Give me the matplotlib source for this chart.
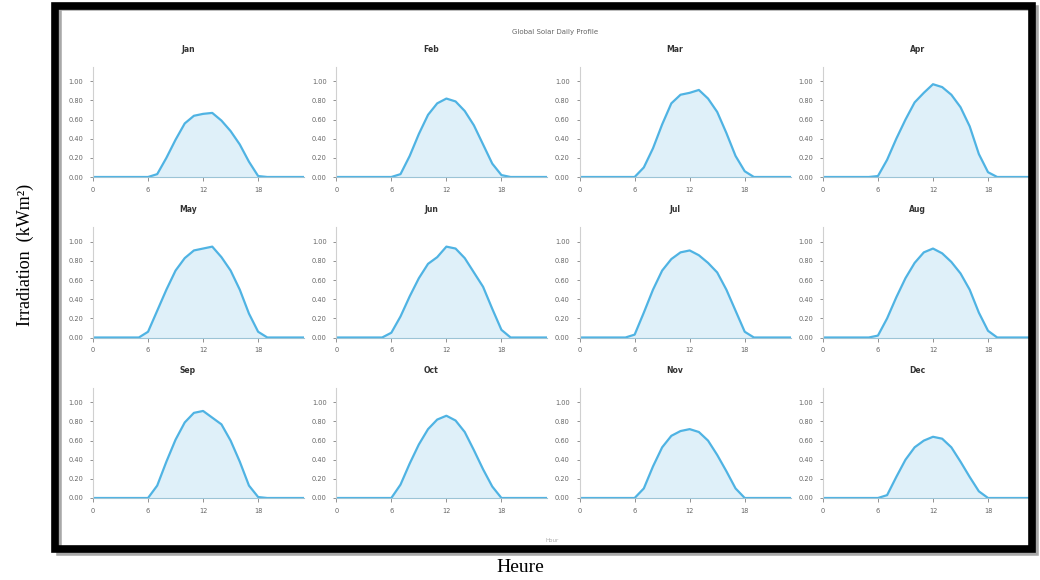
import numpy as np
import matplotlib.pyplot as plt
from matplotlib.patches import Rectangle

# %% data: hourly irradiation (kW/m2), hours 0..23
hours = list(range(24))
months = ["Jan", "Feb", "Mar", "Apr", "May", "Jun",
          "Jul", "Aug", "Sep", "Oct", "Nov", "Dec"]

#       0  1  2  3  4  5  6     7     8     9     10    11    12    13    14    15    16    17    18    19 20 21 22 23
jan = [0, 0, 0, 0, 0, 0, 0.00, 0.03, 0.20, 0.39, 0.56, 0.64, 0.66, 0.67, 0.59, 0.48, 0.34, 0.16, 0.01, 0, 0, 0, 0, 0]
feb = [0, 0, 0, 0, 0, 0, 0.00, 0.03, 0.22, 0.45, 0.65, 0.77, 0.82, 0.79, 0.69, 0.54, 0.34, 0.14, 0.02, 0, 0, 0, 0, 0]
mar = [0, 0, 0, 0, 0, 0, 0.00, 0.10, 0.30, 0.55, 0.77, 0.86, 0.88, 0.91, 0.82, 0.68, 0.46, 0.22, 0.06, 0, 0, 0, 0, 0]
apr = [0, 0, 0, 0, 0, 0, 0.01, 0.18, 0.40, 0.60, 0.78, 0.88, 0.97, 0.94, 0.86, 0.73, 0.53, 0.24, 0.05, 0, 0, 0, 0, 0]
may = [0, 0, 0, 0, 0, 0, 0.06, 0.28, 0.50, 0.70, 0.83, 0.91, 0.93, 0.95, 0.84, 0.70, 0.50, 0.25, 0.06, 0, 0, 0, 0, 0]
jun = [0, 0, 0, 0, 0, 0, 0.05, 0.22, 0.43, 0.62, 0.77, 0.84, 0.95, 0.93, 0.83, 0.68, 0.53, 0.30, 0.08, 0, 0, 0, 0, 0]
jul = [0, 0, 0, 0, 0, 0, 0.03, 0.26, 0.50, 0.70, 0.82, 0.89, 0.91, 0.86, 0.78, 0.68, 0.50, 0.28, 0.06, 0, 0, 0, 0, 0]
aug = [0, 0, 0, 0, 0, 0, 0.02, 0.20, 0.42, 0.62, 0.78, 0.89, 0.93, 0.88, 0.79, 0.67, 0.50, 0.26, 0.07, 0, 0, 0, 0, 0]
sep = [0, 0, 0, 0, 0, 0, 0.00, 0.13, 0.38, 0.61, 0.79, 0.89, 0.91, 0.84, 0.77, 0.60, 0.38, 0.13, 0.01, 0, 0, 0, 0, 0]
oct_ = [0, 0, 0, 0, 0, 0, 0.00, 0.14, 0.36, 0.56, 0.72, 0.82, 0.86, 0.81, 0.69, 0.50, 0.30, 0.12, 0.00, 0, 0, 0, 0, 0]
nov = [0, 0, 0, 0, 0, 0, 0.00, 0.10, 0.33, 0.53, 0.65, 0.70, 0.72, 0.69, 0.60, 0.45, 0.28, 0.10, 0.00, 0, 0, 0, 0, 0]
dec = [0, 0, 0, 0, 0, 0, 0.00, 0.03, 0.22, 0.40, 0.53, 0.60, 0.64, 0.62, 0.53, 0.38, 0.22, 0.07, 0.00, 0, 0, 0, 0, 0]

profiles = [jan, feb, mar, apr, may, jun, jul, aug, sep, oct_, nov, dec]

xticks = [0, 6, 12, 18]
yticks = [0.0, 0.2, 0.4, 0.6, 0.8, 1.0]

line_c = "#4fb3e3"
fill_c = "#dff0f9"
grey = "#666666"

# %% figure
W, H = 1040, 580
fig = plt.figure(figsize=(W / 100, H / 100), dpi=100)

# frame with shadow
fig.patches.append(Rectangle((59 / W, 1 - 553 / H), 977 / W, 545 / H,
                             transform=fig.transFigure, fill=False,
                             ec="#a8a8a8", lw=4, zorder=0))
fig.patches.append(Rectangle((55 / W, 1 - 549 / H), 977 / W, 543 / H,
                             transform=fig.transFigure, fill=False,
                             ec="black", lw=5.5, zorder=1))

ax_w = 211 / W
ax_h = 110 / H
for i, (m, vals) in enumerate(zip(months, profiles)):
    r, c = divmod(i, 4)
    left = (93 + c * 243.3) / W
    bottom = (H - (177 + r * 160.5)) / H
    ax = fig.add_axes([left, bottom, ax_w, ax_h])
    ax.fill_between(hours, vals, 0, color=fill_c, lw=0)
    ax.plot(hours, vals, color=line_c, lw=1.6, solid_joinstyle="round",
            solid_capstyle="round")
    ax.set_xlim(0, 23)
    ax.set_ylim(0, 1.15)
    ax.set_xticks(xticks)
    ax.set_yticks(yticks)
    ax.set_yticklabels([f"{v:.2f}" for v in yticks])
    for s in ["top", "right"]:
        ax.spines[s].set_visible(False)
    ax.spines["left"].set_color("#d0d0d0")
    ax.spines["bottom"].set_color("#9cc4d6")
    ax.tick_params(axis="both", labelsize=4.8, colors=grey, length=2,
                   width=0.5, pad=5)
    ax.tick_params(axis="x", length=3, pad=4)
    ax.set_facecolor("none")
    ax.set_title(m, fontsize=5.5, fontweight="bold", color="#333333",
                 pad=11, x=0.45)

fig.text(555 / W, 1 - 32 / H, "Global Solar Daily Profile", fontsize=5,
         color="#666666", ha="center", va="center")
fig.text(552 / W, 1 - 541 / H, "Hour", fontsize=4, color="#aaaaaa",
         ha="center", va="center")

fig.text(25 / W, 1 - 255 / H, "Irradiation  (kWm²)", rotation=90,
         fontsize=13, family="Liberation Serif", ha="center", va="center")
fig.text(520 / W, 1 - 567 / H, "Heure", fontsize=14,
         family="Liberation Serif", ha="center", va="center")

fig.savefig("out.png", dpi=100)
